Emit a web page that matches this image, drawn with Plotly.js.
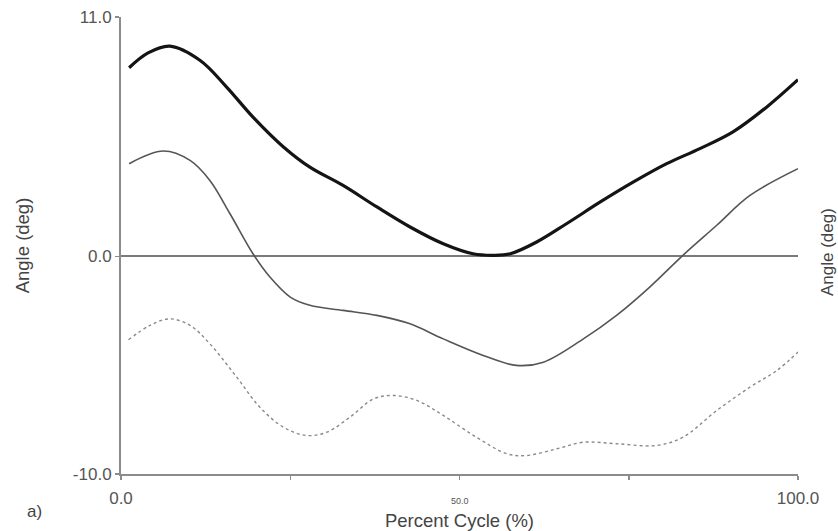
<!DOCTYPE html>
<html>
<head>
<meta charset="utf-8">
<script src="https://cdn.plot.ly/plotly-3.0.1.min.js"></script>
<style>html,body{margin:0;padding:0;background:#fff;}#chart{width:838px;height:531px;}</style>
</head>
<body>
<div id="chart"></div>
<script>
// Percent of cycle (x) and angle values (deg)
var thickX = [1.2, 4, 7.2, 11.7, 15.6, 19.5, 24, 27.9, 32.8, 37.8, 42.7, 47.6, 52, 55, 57.5, 61.4, 65.8, 70.8, 75.7, 80.6, 85.5, 90.4, 95.4, 100];
var thickY = [8.67, 9.35, 9.66, 9.0, 7.78, 6.4, 5.03, 4.1, 3.26, 2.27, 1.35, 0.58, 0.12, 0.05, 0.12, 0.66, 1.5, 2.5, 3.42, 4.26, 4.95, 5.72, 6.87, 8.12];

var midX = [1.2, 6.25, 10.2, 13.1, 16.1, 19.5, 22, 25, 27.9, 32.8, 37.8, 42.7, 47.6, 53.5, 58.4, 62.4, 68.3, 73.2, 78.1, 83, 88, 92.9, 100];
var midY = [4.26, 4.84, 4.41, 3.5, 1.96, 0.12, -0.95, -1.87, -2.25, -2.48, -2.71, -3.1, -3.79, -4.55, -5.01, -4.86, -3.79, -2.71, -1.41, 0.05, 1.43, 2.8, 4.03];

var dotX = [1.1, 4.3, 7.2, 10.2, 13.1, 17.1, 20.5, 24, 27.4, 30.4, 33.8, 37.3, 40.2, 43.7, 47.6, 52.5, 57, 59.9, 64.4, 68.3, 73.2, 79.1, 83, 88, 92.9, 96.9, 100];
var dotY = [-3.83, -3.17, -2.87, -3.17, -4.01, -5.55, -6.93, -7.85, -8.23, -8.08, -7.39, -6.55, -6.39, -6.62, -7.31, -8.31, -9.07, -9.15, -8.84, -8.54, -8.61, -8.69, -8.31, -7.08, -6.01, -5.24, -4.4];

var xTickVals = [0, 25, 50, 75, 100];
var xTickText = ["0.0", "", "", "", "100.0"];
var yTickVals = [-10, 0, 11];
var yTickText = ["-10.0", "0.0", "11.0"];

var traces = [
  {x: dotX, y: dotY, mode: 'lines', line: {color: '#8a8a8a', width: 1.4, dash: 'dot', shape: 'spline', smoothing: 1}, hoverinfo: 'skip'},
  {x: midX, y: midY, mode: 'lines', line: {color: '#555555', width: 1.6, shape: 'spline', smoothing: 1}, hoverinfo: 'skip'},
  {x: thickX, y: thickY, mode: 'lines', line: {color: '#141414', width: 3.2, shape: 'spline', smoothing: 1}, hoverinfo: 'skip'}
];

var layout = {
  width: 838, height: 531,
  margin: {l: 121, r: 40, t: 17, b: 57},
  paper_bgcolor: '#fff', plot_bgcolor: '#fff',
  showlegend: false,
  font: {family: 'Liberation Sans, Arial, sans-serif', color: '#555'},
  xaxis: {
    range: [0, 100], showgrid: false, zeroline: false,
    showline: true, linecolor: '#8c8c8c', linewidth: 2,
    ticks: 'outside', ticklen: 4, tickwidth: 1.5, tickcolor: '#8c8c8c',
    tickmode: 'array', tickvals: xTickVals, ticktext: xTickText,
    tickfont: {size: 17, color: '#555'}, ticklabelstandoff: 4,
    title: {text: 'Percent Cycle (%)', font: {size: 18.5, color: '#444'}, standoff: 12}
  },
  yaxis: {
    range: [-10, 11], showgrid: false,
    zeroline: true, zerolinecolor: '#7a7a7a', zerolinewidth: 2,
    showline: true, linecolor: '#8c8c8c', linewidth: 2,
    ticks: 'outside', ticklen: 4, tickwidth: 1.5, tickcolor: '#8c8c8c',
    tickmode: 'array', tickvals: yTickVals, ticktext: yTickText,
    tickfont: {size: 17, color: '#555'},
    title: {text: 'Angle (deg)', font: {size: 18.5, color: '#444'}, standoff: 38}
  },
  annotations: [
    {x: 50, y: -0.06, xref: 'x', yref: 'paper', text: '50.0', showarrow: false, font: {size: 9, color: '#555'}, xanchor: 'center', yanchor: 'middle'},
    {x: -0.128, y: -0.083, xref: 'paper', yref: 'paper', text: 'a)', showarrow: false, font: {size: 17, color: '#444'}, xanchor: 'center', yanchor: 'middle'},
    {x: 1.0445, y: 0.486, xref: 'paper', yref: 'paper', text: 'Angle (deg)', textangle: -90, showarrow: false, font: {size: 17, color: '#444'}, xanchor: 'center', yanchor: 'middle'}
  ]
};

Plotly.newPlot('chart', traces, layout, {displayModeBar: false, staticPlot: true});
</script>
</body>
</html>
